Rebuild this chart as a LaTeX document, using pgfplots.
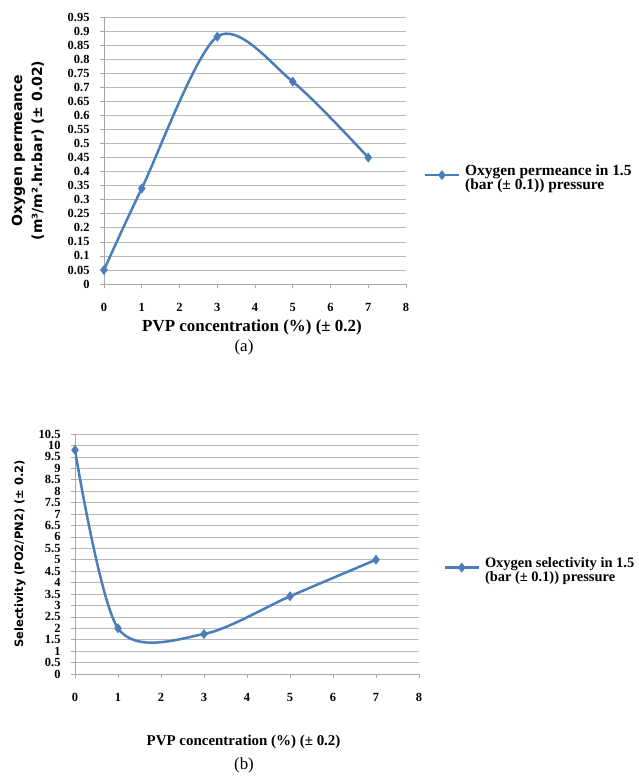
\documentclass[border=0pt]{standalone}
\usepackage{fontspec}
\setmainfont{Liberation Serif}
\newfontfamily\labfont{DejaVu Sans}
\usepackage{pgfplots}
\pgfplotsset{compat=1.18}
\definecolor{exblue}{RGB}{74,126,187}

\newcommand{\twoline}[2]{{\renewcommand{\arraystretch}{0.85}\begin{tabular}[t]{@{}l@{}}#1\\#2\end{tabular}}}

\pgfplotsset{
  exstyle/.style={
    scale only axis,
    axis lines=left,
    axis line style={-, draw=gray!70, line width=0.8pt},
    xmin=0, xmax=8, xtick={0,1,2,3,4,5,6,7,8},
    tick style={draw=gray!70, line width=0.6pt},
    tick align=outside, major tick length=4bp,
    ymajorgrids, grid style={gray!55, line width=0.6pt},
    scaled y ticks=false,
    ticklabel style={font=\bfseries\fontsize{12.5}{13}\selectfont},
    xticklabel style={yshift=-12bp},
    yticklabel style={xshift=-7bp},
    /pgf/number format/assume math mode=true,
    xlabel style={anchor=center},
    ylabel style={font=\labfont\bfseries, align=center, anchor=center},
    legend style={draw=none, fill=none,
      cells={anchor=base west}, column sep=3bp, anchor=west},
    legend image code/.code={\draw[##1, mark repeat=2, mark phase=2]
      plot coordinates {(0bp,0bp) (17bp,0bp) (34bp,0bp)};},
  },
  curve/.style={exblue, line width=2.5bp, smooth, mark=diamond*, mark size=3bp,
    mark options={solid, fill=exblue}},
}

\begin{document}
\begin{tikzpicture}
\useasboundingbox (0bp,0bp) rectangle (639bp,-778bp);

% (a) permeance
\begin{axis}[exstyle,
  at={(104bp,-284bp)}, anchor=south west, width=302bp, height=267bp,
  ymin=0, ymax=0.95,
  ytick={0,0.05,0.1,0.15,0.2,0.25,0.3,0.35,0.4,0.45,0.5,0.55,0.6,0.65,0.7,0.75,0.8,0.85,0.9,0.95},
  yticklabel style={/pgf/number format/fixed, /pgf/number format/precision=2},
  xlabel={PVP concentration (\%) (± 0.2)},
  xlabel style={at={(axis description cs:0.49,-0.161)}, font=\bfseries\fontsize{17}{18}\selectfont},
  ylabel={Oxygen permeance\\(m³/m².hr.bar) (± 0.02)},
  ylabel style={at={(axis description cs:-0.252,0.5)}, font=\labfont\bfseries\fontsize{14}{20}\selectfont},
  legend style={at={(1.048,0.425)}, font=\bfseries\fontsize{15.5}{15}\selectfont},
]
\addplot[curve] coordinates {(0,0.05) (1,0.34) (3,0.88) (5,0.72) (7,0.45)};
\addlegendentry{\twoline{Oxygen permeance in 1.5}{(bar (± 0.1)) pressure}}
\end{axis}
\node[font=\fontsize{17}{20}\selectfont] at (244bp,-347bp) {(a)};

% (b) selectivity
\begin{axis}[exstyle,
  at={(75bp,-674bp)}, anchor=south west, width=344bp, height=240bp,
  ymin=0, ymax=10.5,
  ytick={0,0.5,1,1.5,2,2.5,3,3.5,4,4.5,5,5.5,6,6.5,7,7.5,8,8.5,9,9.5,10,10.5},
  yticklabel style={/pgf/number format/fixed, /pgf/number format/precision=1},
  xlabel={PVP concentration (\%) (± 0.2)},
  xlabel style={at={(axis description cs:0.49,-0.283)}, font=\bfseries\fontsize{15}{16}\selectfont},
  ylabel={Selectivity (PO2/PN2) (± 0.2)},
  ylabel style={at={(axis description cs:-0.16,0.5)}, font=\labfont\bfseries\fontsize{11.5}{14}\selectfont},
  legend style={at={(1.062,0.461)}, font=\bfseries\fontsize{14.5}{15}\selectfont},
]
\addplot[curve] coordinates {(0,9.8) (1,2.0) (3,1.75) (5,3.4) (7,5.0)};
\addlegendentry{\twoline{Oxygen selectivity in 1.5}{(bar (± 0.1)) pressure}}
\end{axis}
\node[font=\fontsize{17}{20}\selectfont] at (244bp,-765bp) {(b)};
\end{tikzpicture}
\end{document}
